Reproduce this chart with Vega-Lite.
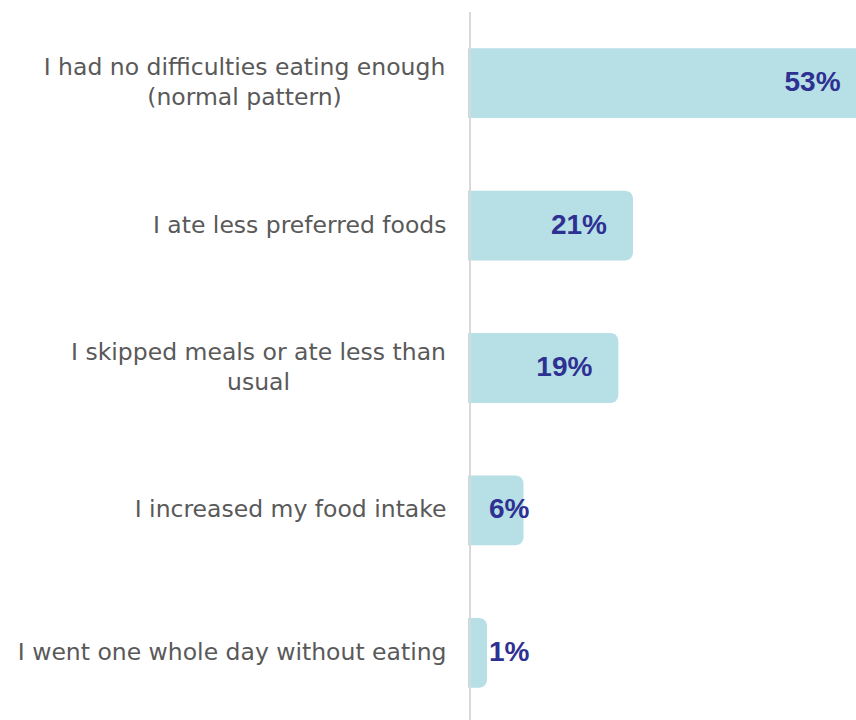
{
  "$schema": "https://vega.github.io/schema/vega-lite/v6.json",
  "autosize": "none",
  "padding": {"left": 468, "top": 12, "right": 0, "bottom": 0},
  "width": 388,
  "height": 712,
  "background": "white",
  "config": {"view": {"stroke": null}},
  "data": {
    "values": [
      {"answer": "I had no difficulties eating enough (normal pattern)", "share": 0.53},
      {"answer": "I ate less preferred foods", "share": 0.21},
      {"answer": "I skipped meals or ate less than usual", "share": 0.19},
      {"answer": "I increased my food intake", "share": 0.06},
      {"answer": "I went one whole day without eating", "share": 0.01}
    ]
  },
  "layer": [
    {
      "mark": {"type": "bar", "color": "#B7DFE6", "cornerRadiusTopRight": 8, "cornerRadiusBottomRight": 8},
      "encoding": {
        "y": {
          "field": "answer",
          "type": "nominal",
          "sort": null,
          "scale": {"paddingInner": 0.51, "paddingOuter": 0.255},
          "axis": {
            "title": null,
            "domain": false,
            "ticks": false,
            "tickSize": 0,
            "grid": false,
            "labelPadding": {"condition": [
              {"test": "datum.value == 'I had no difficulties eating enough (normal pattern)'", "value": 224},
              {"test": "datum.value == 'I skipped meals or ate less than usual'", "value": 210}
            ], "value": 22},
            "labelAlign": {"condition": {"test": "datum.value == 'I had no difficulties eating enough (normal pattern)' || datum.value == 'I skipped meals or ate less than usual'", "value": "center"}, "value": "right"},
            "labelOffset": {"condition": {"test": "datum.value == 'I had no difficulties eating enough (normal pattern)' || datum.value == 'I skipped meals or ate less than usual'", "value": -15}, "value": 0},
            "labelLimit": 0,
            "labelFont": "DejaVu Sans",
            "labelFontSize": 23.5,
            "labelColor": "#595959",
            "labelLineHeight": 30,
            "labelExpr": "datum.value == 'I had no difficulties eating enough (normal pattern)' ? ['I had no difficulties eating enough', '(normal pattern)'] : datum.value == 'I skipped meals or ate less than usual' ? ['I skipped meals or ate less than', 'usual'] : datum.label"
          }
        },
        "x": {"field": "share", "type": "quantitative", "scale": {"domain": [-0.016, 0.5155], "nice": false, "zero": false}, "axis": null},
        "x2": {"datum": -0.016}
      }
    },
    {
      "mark": {"type": "rule", "color": "#D9D9D9", "strokeWidth": 2, "xOffset": 2},
      "encoding": {"x": {"datum": -0.016}}
    },
    {
      "transform": [{"filter": "datum.share >= 0.1"}],
      "mark": {"type": "text", "align": "right", "baseline": "middle", "dx": -26, "font": "Liberation Sans", "fontSize": 28, "fontWeight": "bold", "color": "#2E3192"},
      "encoding": {
        "y": {"field": "answer", "type": "nominal", "sort": null},
        "x": {"field": "share", "type": "quantitative"},
        "text": {"field": "share", "type": "quantitative", "format": ".0%"}
      }
    },
    {
      "transform": [{"filter": "datum.share < 0.1"}],
      "mark": {"type": "text", "align": "left", "baseline": "middle", "dx": 21, "font": "Liberation Sans", "fontSize": 28, "fontWeight": "bold", "color": "#2E3192"},
      "encoding": {
        "y": {"field": "answer", "type": "nominal", "sort": null},
        "x": {"datum": -0.016},
        "text": {"field": "share", "type": "quantitative", "format": ".0%"}
      }
    }
  ]
}
